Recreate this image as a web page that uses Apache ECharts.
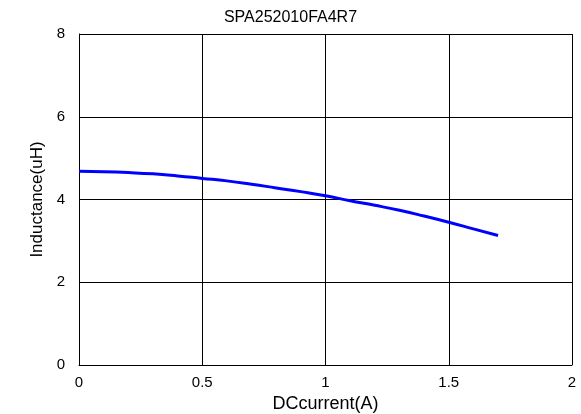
<!DOCTYPE html>
<html><head><meta charset="utf-8">
<script src="https://cdn.jsdelivr.net/npm/echarts@6/dist/echarts.min.js"></script>
<style>html,body{margin:0;padding:0;background:#fff}#c{width:581px;height:414px}</style>
</head><body><div id="c"></div>
<script>
const currentA = [0,0.1,0.2,0.3,0.4,0.5,0.6,0.7,0.8,0.9,1.0,1.1,1.2,1.3,1.4,1.5,1.6,1.7];
const inductanceUH = [4.68,4.67,4.65,4.62,4.57,4.51,4.45,4.37,4.28,4.19,4.09,3.97,3.86,3.74,3.60,3.45,3.29,3.13];
const titleText = 'SPA252010FA4R7';
const xName = 'DCcurrent(A)';
const yName = 'Inductance(uH)';
const chart = echarts.init(document.getElementById('c'));
const font = 'Liberation Sans, Arial, sans-serif';
chart.setOption({
  animation:false,
  title:{text:titleText,left:'center',top:5,textStyle:{fontFamily:font,fontSize:16,fontWeight:'normal',color:'#000'}},
  grid:{left:79,right:9,top:34,bottom:49,containLabel:false,outerBoundsMode:'none'},
  xAxis:{type:'value',min:0,max:2,interval:0.5,name:xName,nameLocation:'middle',nameGap:29,
    nameTextStyle:{fontFamily:font,fontSize:18,color:'#000'},
    axisLine:{show:true,lineStyle:{color:'#000'}},axisTick:{show:false},
    axisLabel:{fontFamily:font,fontSize:15,color:'#000',margin:10},
    splitLine:{show:true,lineStyle:{color:'#000',width:1}}},
  yAxis:{type:'value',min:0,max:8,interval:2,name:yName,nameLocation:'middle',nameGap:26,
    nameTextStyle:{fontFamily:font,fontSize:17,color:'#000'},
    axisLine:{show:true,lineStyle:{color:'#000'}},axisTick:{show:false},
    axisLabel:{fontFamily:font,fontSize:15,color:'#000',margin:14},
    splitLine:{show:true,lineStyle:{color:'#000',width:1}}},
  series:[{type:'line',data:currentA.map((x,i)=>[x,inductanceUH[i]]),smooth:true,showSymbol:false,
    lineStyle:{color:'#0000ff',width:3}}]
});
</script></body></html>
